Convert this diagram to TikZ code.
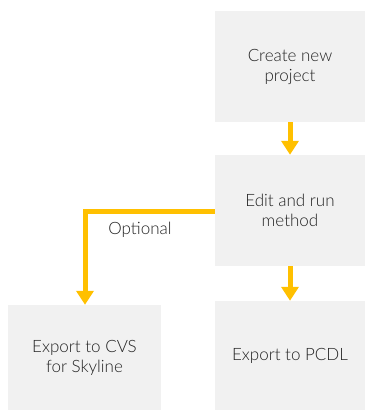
\documentclass[tikz,border=0pt]{standalone}
\usepackage{fontspec}
\setmainfont{Lato Light}
\usetikzlibrary{arrows.meta}
\definecolor{boxgray}{HTML}{F1F1F1}
\definecolor{arrowyellow}{HTML}{FFC000}
\definecolor{txt}{HTML}{222222}
\tikzset{
  stepbox/.style={fill=boxgray, draw=none, text=txt, align=center, font=\fontsize{17}{20}\selectfont, inner sep=0pt},
  flow/.style={draw=arrowyellow, line width=5pt, -{Triangle[width=17pt,length=14pt]}},
}
\begin{document}
\begin{tikzpicture}[x=1pt,y=-1pt]
\useasboundingbox (0,0) rectangle (365,410);
\fill[white] (0,0) rectangle (365,410);
\node[stepbox, minimum width=150pt, minimum height=111pt] (create) at (290,66.5) {Create new\\project};
\node[stepbox, minimum width=150pt, minimum height=111pt] (edit) at (290,210.5) {Edit and run\\method};
\node[stepbox, minimum width=150pt, minimum height=109pt] (pcdl) at (290,355.5) {Export to PCDL};
\node[stepbox, minimum width=153pt, minimum height=105pt] (cvs) at (84.5,357.5) {Export to CVS\\for Skyline};
\coordinate (corner) at (85,211);
\draw[flow] (create.south) -- (edit.north);
\draw[flow] (edit.south) -- (pcdl.north);
\draw[flow] (edit.west |- corner) -- (corner) -- (cvs.north -| corner);
\node[text=txt, font=\fontsize{17}{20}\selectfont, anchor=center] (opt) at (140,230) {Optional};
\end{tikzpicture}
\end{document}
